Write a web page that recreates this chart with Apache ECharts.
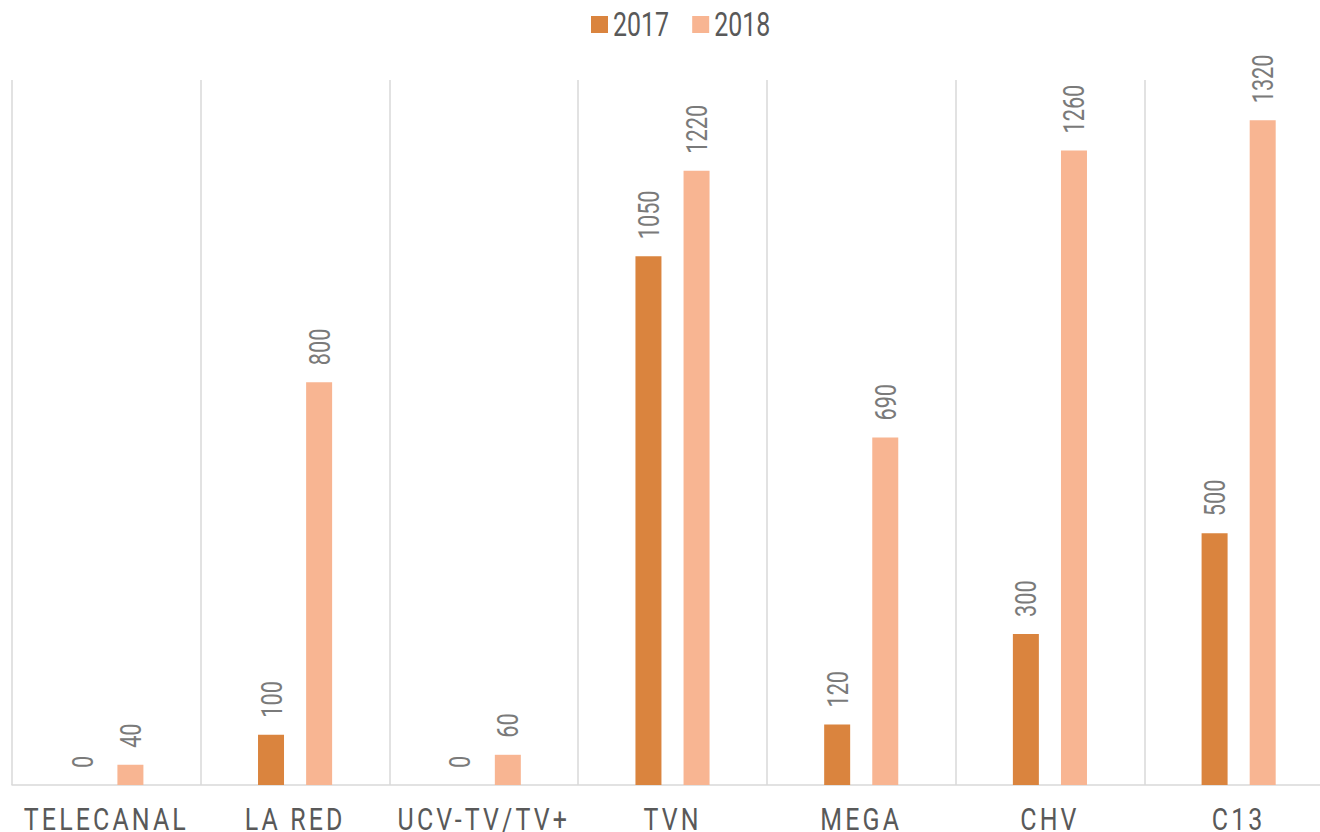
<!DOCTYPE html>
<html>
<head>
<meta charset="utf-8">
<script src="https://cdn.jsdelivr.net/npm/echarts@6/dist/echarts.min.js"></script>
<style>
  html, body { margin: 0; padding: 0; background: #fff; }
  #main { width: 1320px; height: 832px; }
</style>
</head>
<body>
<div id="main"></div>
<script>
var categories = ['TELECANAL', 'LA RED', 'UCV-TV/TV+', 'TVN', 'MEGA', 'CHV', 'C13'];
var years = ['2017', '2018'];
var values2017 = [0, 100, 0, 1050, 120, 300, 500];
var values2018 = [40, 800, 60, 1220, 690, 1260, 1320];

var font = "Roboto, 'Liberation Sans', sans-serif";

var myChart = echarts.init(document.getElementById('main'), null, { renderer: 'svg' });

function barLabel() {
    return {
        show: true,
        position: 'top',
        rotate: 90,
        align: 'left',
        verticalAlign: 'middle',
        distance: 17,
        fontFamily: font,
        fontSize: 30,
        color: '#7a7a7a'
    };
}

var option = {
    animation: false,
    legend: {
        data: years,
        top: 3,
        left: 586,
        icon: 'rect',
        itemWidth: 17,
        itemHeight: 17,
        itemGap: 5,
        textStyle: {
            fontFamily: font,
            fontSize: 33,
            color: '#595959'
        }
    },
    grid: {
        left: 12,
        right: -13,
        top: 80,
        bottom: 47,
        outerBoundsMode: 'none'
    },
    xAxis: {
        type: 'category',
        data: categories,
        axisTick: { show: false },
        axisLine: { lineStyle: { color: '#d9d9d9', width: 1.5 } },
        splitLine: { show: true, lineStyle: { color: '#d9d9d9', width: 1.5 } },
        axisLabel: {
            fontFamily: font,
            fontSize: 32,
            color: '#595959',
            margin: 18,
            interval: 0
        }
    },
    yAxis: {
        type: 'value',
        min: 0,
        max: 1400,
        show: false,
        splitLine: { show: false }
    },
    series: [
        {
            name: years[0],
            type: 'bar',
            data: values2017,
            barWidth: 26,
            barGap: '85%',
            itemStyle: { color: '#DA843E' },
            label: barLabel()
        },
        {
            name: years[1],
            type: 'bar',
            data: values2018,
            barWidth: 26,
            itemStyle: { color: '#F8B592' },
            label: barLabel()
        }
    ]
};

myChart.setOption(option);

// the original uses a narrow font: squeeze the glyphs, spread the category names
function narrowText() {
    var texts = document.querySelectorAll('#main text');
    texts.forEach(function (t) {
        if (t.getAttribute('textLength')) return;
        var s = t.textContent;
        var w;
        if (categories.indexOf(s) >= 0) {
            t.setAttribute('letter-spacing', '4');
            w = t.getComputedTextLength() * 0.78;
        } else if (years.indexOf(s) >= 0) {
            w = s.length * 14;
        } else if (/^\d+$/.test(s)) {
            w = s.length * 12.2;
        } else {
            return;
        }
        t.setAttribute('textLength', w.toFixed(1));
        t.setAttribute('lengthAdjust', 'spacingAndGlyphs');
    });
}
narrowText();
myChart.on('finished', narrowText);
</script>
</body>
</html>
